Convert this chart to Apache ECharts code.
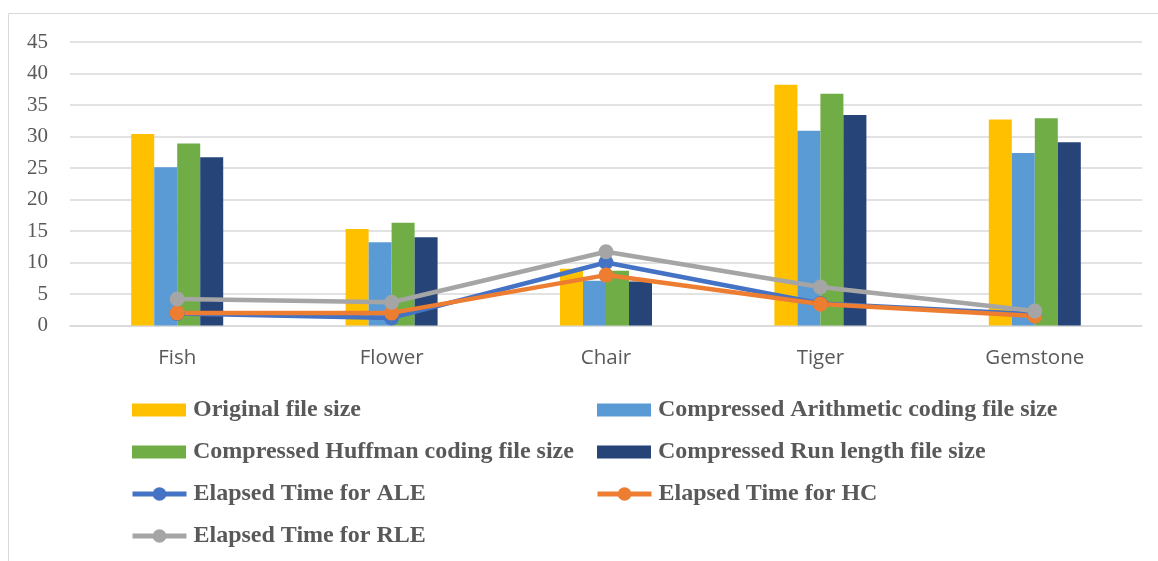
<!DOCTYPE html>
<html>
<head>
<meta charset="utf-8">
<script src="https://cdn.jsdelivr.net/npm/echarts@6/dist/echarts.min.js"></script>
<style>
  html, body { margin: 0; padding: 0; background: #fff; }
  #chart { width: 1158px; height: 561px; }
</style>
</head>
<body>
<div id="chart"></div>
<script>
// Image categories
const categories = ['Fish', 'Flower', 'Chair', 'Tiger', 'Gemstone'];

// File sizes
const originalSize   = [30.4, 15.3, 9.0, 38.2, 32.7];
const arithmeticSize = [25.1, 13.2, 7.1, 30.9, 27.4];
const huffmanSize    = [28.9, 16.3, 8.7, 36.8, 32.9];
const runLengthSize  = [26.7, 14.0, 7.0, 33.4, 29.1];

// Elapsed times
const timeALE = [1.9, 1.2, 10.0, 3.5, 1.8];
const timeHC  = [2.0, 2.0, 8.0, 3.4, 1.5];
const timeRLE = [4.2, 3.7, 11.7, 6.1, 2.3];

const yTicks = { min: 0, max: 45, interval: 5 };

const txtGray = '#595959';
const legendFont = { fontFamily: '"Liberation Serif", "Times New Roman", serif', fontWeight: 'bold', fontSize: 24, color: txtGray, padding: [0, 0, 0, 2] };

function bar(name, data, color) {
  return { name, type: 'bar', data, barWidth: 23, barGap: '0%', itemStyle: { color } };
}
function line(name, data, color) {
  return {
    name, type: 'line', data, symbol: 'circle', symbolSize: 15,
    lineStyle: { color, width: 4.5 }, itemStyle: { color }
  };
}

// Legend rows are 42px apart; bar swatches are thin rectangles, line keys carry a larger dot
const rowY = [410, 452, 494, 536];
function legendBlock(left, centerY, names, itemH, icon) {
  const block = {
    orient: 'vertical', left, top: centerY - 12, itemGap: 18, padding: 0,
    itemWidth: 54, itemHeight: itemH,
    lineStyle: { width: 5 },
    textStyle: legendFont,
    data: names
  };
  if (icon) block.icon = icon;
  return block;
}

const chart = echarts.init(document.getElementById('chart'));
chart.setOption({
  animation: false,
  graphic: [{
    type: 'rect',
    shape: { x: 8.5, y: 13.5, width: 1200, height: 600 },
    style: { fill: 'none', stroke: '#d9d9d9', lineWidth: 1 },
    silent: true
  }],
  grid: { left: 70, right: 16, top: 42, bottom: 235.5 },
  legend: [
    legendBlock(132, rowY[0], ['Original file size', 'Compressed Huffman coding file size'], 13, 'rect'),
    legendBlock(597, rowY[0], ['Compressed Arithmetic coding file size', 'Compressed Run length file size'], 13, 'rect'),
    legendBlock(130, rowY[2], ['Elapsed Time for ALE', 'Elapsed Time for RLE'], 17),
    legendBlock(595, rowY[2], ['Elapsed Time for HC'], 17)
  ],
  xAxis: {
    type: 'category', data: categories,
    axisLine: { show: true, lineStyle: { color: '#d9d9d9', width: 1.5 } },
    axisTick: { show: false },
    axisLabel: { color: txtGray, fontSize: 20.5, fontFamily: '"Open Sans", "Noto Sans", sans-serif', margin: 22 }
  },
  yAxis: {
    type: 'value', min: yTicks.min, max: yTicks.max, interval: yTicks.interval,
    axisLine: { show: false }, axisTick: { show: false },
    splitLine: { lineStyle: { color: '#d9d9d9', width: 1.5 } },
    axisLabel: { color: txtGray, fontSize: 21, fontFamily: '"Liberation Serif", "Times New Roman", serif', margin: 22 }
  },
  series: [
    bar('Original file size', originalSize, '#FFC000'),
    bar('Compressed Arithmetic coding file size', arithmeticSize, '#5B9BD5'),
    bar('Compressed Huffman coding file size', huffmanSize, '#70AD47'),
    bar('Compressed Run length file size', runLengthSize, '#264478'),
    line('Elapsed Time for ALE', timeALE, '#4472C4'),
    line('Elapsed Time for HC', timeHC, '#ED7D31'),
    line('Elapsed Time for RLE', timeRLE, '#A5A5A5')
  ]
});
</script>
</body>
</html>
